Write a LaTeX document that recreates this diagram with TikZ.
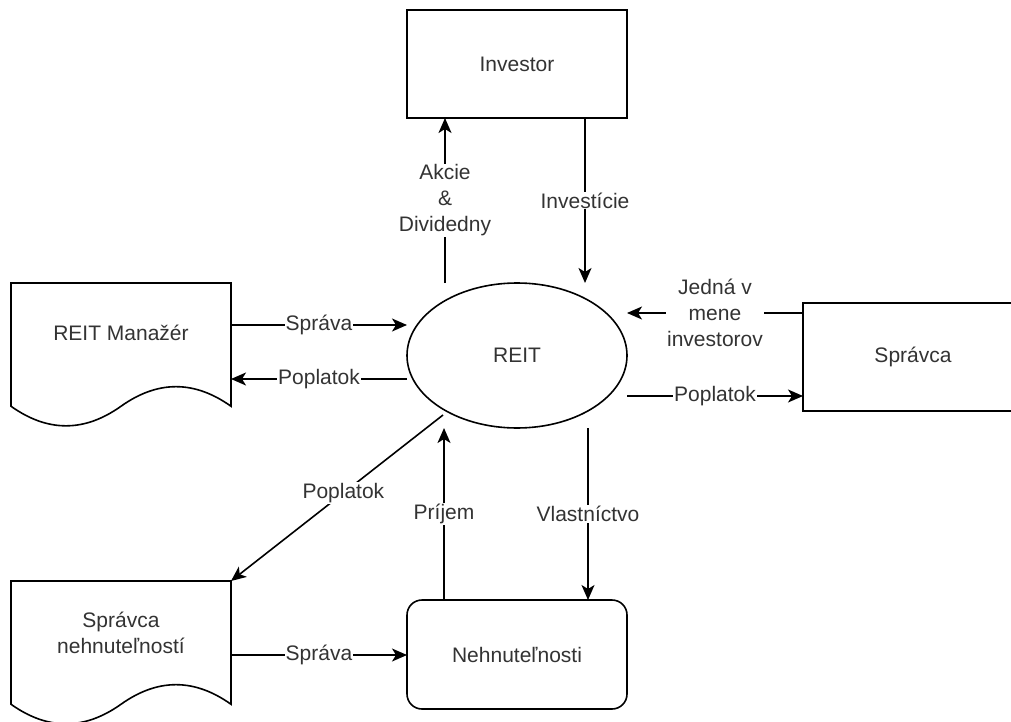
\documentclass[tikz,border=0pt]{standalone}
\usepackage{fontspec}
\setmainfont{Liberation Sans}
\usetikzlibrary{arrows.meta,shapes.geometric,calc}

% Outline of a "document" symbol: flat top, straight sides, wavy bottom.
\newcommand{\docoutline}[1]{%
  \draw[shapeline] (#1.north west) -- (#1.north east) -- ++(0,-123.25)
    .. controls +(-36.7,26.1) and +(36.7,26.1) .. ++(-110,0)
    .. controls +(-36.7,-26.1) and +(36.7,-26.1) .. ++(-110,0) -- cycle;}

\begin{document}
\begin{tikzpicture}[x=1pt,y=1pt,
  every node/.style={font=\fontsize{21}{26}\selectfont, text=black!80, outer sep=0pt},
  shapeline/.style={draw=black, line width=1.6pt, fill=white},
  box/.style={shapeline, minimum width=220pt, minimum height=108pt, inner sep=0pt},
  propbox/.style={shapeline, rounded corners=15pt, minimum width=220pt, minimum height=109pt, inner sep=0pt},
  trust/.style={shapeline, ellipse, minimum width=220pt, minimum height=145pt, inner sep=0pt},
  docbox/.style={minimum width=220pt, minimum height=145pt, inner sep=0pt},
  doctext/.style={align=center, inner sep=0pt},
  arr/.style={line width=1.6pt, -{Stealth[length=15pt,width=13pt,inset=4pt]}},
  lbl/.style={fill=white, inner sep=1pt, align=center}]

\useasboundingbox (0,0) rectangle (1011,-722);
\clip (0,0) rectangle (1011,-722);

% main blocks
\node[box] (inv) at (517,-64) {Investor};
\node[trust] (reit) at (517,-355.5) {REIT};
\node[box] (spr) at (913,-357) {Správca};
\node[propbox] (prop) at (517,-654.5) {Nehnuteľnosti};

% document-style blocks
\node[docbox] (mgr) at (121,-355.5) {};
\docoutline{mgr}
\node[doctext] (mgrtext) at ($(mgr.center)+(0,22.5)$) {REIT Manažér};

\node[docbox] (pm) at (121,-653.5) {};
\docoutline{pm}
\node[doctext] (pmtext) at ($(pm.center)+(0,20.5)$) {Správca\\nehnuteľností};

% attachment offsets
\coordinate (xDiv) at (445,0);
\coordinate (xInv) at (585,0);
\coordinate (xInc) at (444,0);
\coordinate (xOwn) at (588,0);
\coordinate (yMgrIn) at (0,-325);
\coordinate (yMgrOut) at (0,-379);
\coordinate (yAct) at (0,-313);
\coordinate (yFeeR) at (0,-396);
\coordinate (yPm) at (0,-655);
\coordinate (reitSW) at (443,-415);

% flows
\draw[arr] (reit.north -| xDiv) -- node[lbl] {Akcie\\\&\\Dividedny} (inv.south -| xDiv);
\draw[arr] (inv.south -| xInv) -- node[lbl] {Investície} (reit.north -| xInv);
\draw[arr] (mgr.east |- yMgrIn) -- node[lbl] {Správa} (reit.west |- yMgrIn);
\draw[arr] (reit.west |- yMgrOut) -- node[lbl] {Poplatok} (mgr.east |- yMgrOut);
\draw[arr] (spr.west |- yAct) -- node[lbl] {Jedná v\\mene\\investorov} (reit.east |- yAct);
\draw[arr] (reit.east |- yFeeR) -- node[lbl] {Poplatok} (spr.west |- yFeeR);
\draw[arr] (reitSW) -- node[lbl, pos=0.47] {Poplatok} (pm.north east);
\draw[arr] (prop.north -| xInc) -- node[lbl] {Príjem} (reit.south -| xInc);
\draw[arr] (reit.south -| xOwn) -- node[lbl] {Vlastníctvo} (prop.north -| xOwn);
\draw[arr] (pm.east |- yPm) -- node[lbl] {Správa} (prop.west |- yPm);

\end{tikzpicture}
\end{document}
